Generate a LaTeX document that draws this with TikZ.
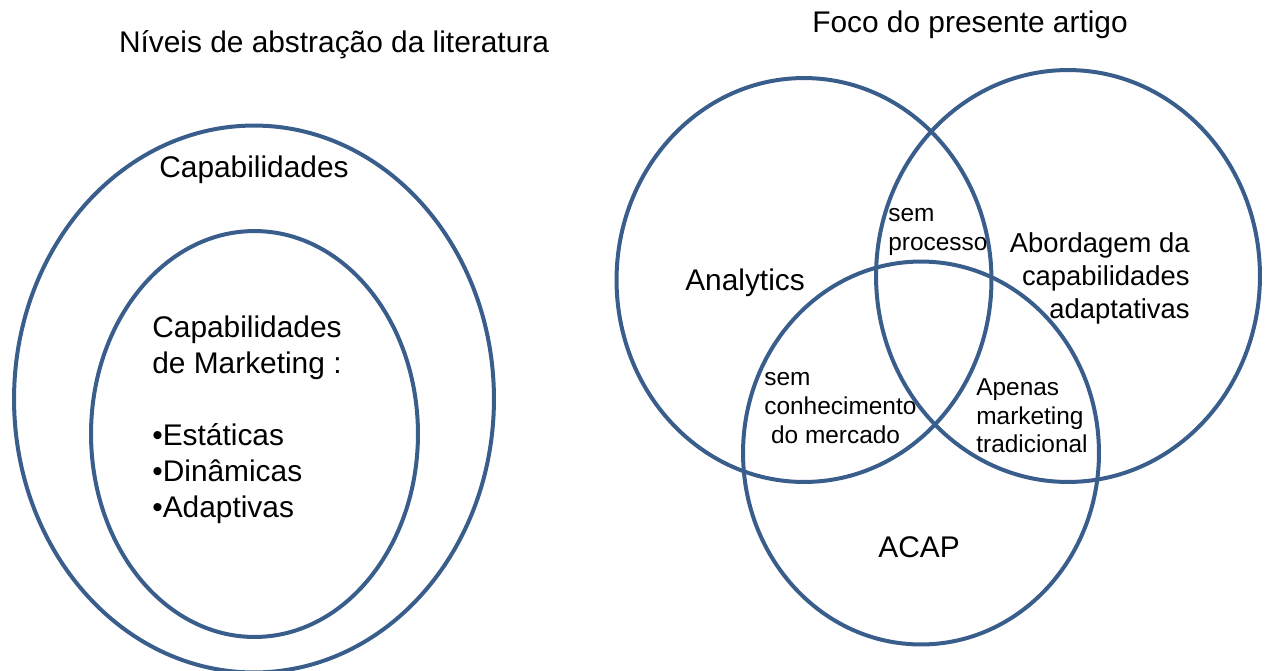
\documentclass[tikz,border=0pt]{standalone}
\usepackage{fontspec}
\setmainfont{Liberation Sans}
\usetikzlibrary{shapes.geometric, positioning}
\definecolor{ringColor}{RGB}{58,94,140}
\tikzset{ring/.style={draw=ringColor, line width=0.08cm, ellipse, inner sep=0pt}}
\tikzset{bigText/.style={font=\fontsize{17}{20.5}\selectfont, inner sep=0pt}}
\tikzset{midText/.style={font=\fontsize{15.6}{18.8}\selectfont, inner sep=0pt}}
\tikzset{smallText/.style={font=\fontsize{13.9}{16.3}\selectfont, inner sep=0pt, align=left}}

\begin{document}
\begin{tikzpicture}[x=0.02cm, y=-0.02cm]
	\useasboundingbox (0,0) rectangle (1268,670);

	% Levels of abstraction
	\node (outer) [ring, minimum width=9.6cm, minimum height=10.94cm] at (254,399) {};
	\node (inner) [ring, minimum width=6.54cm, minimum height=8.12cm] at (254.5,434) {};

	\node (levelsTitle) [bigText] at (334,45) {Níveis de abstração da literatura};
	\node (capLabel) [bigText] at (254,170) {Capabilidades};
	\node (mktLabel) [bigText, align=left, anchor=west] at (152,420) {Capabilidades\\de Marketing :\\[20.5pt]•Estáticas\\•Dinâmicas\\•Adaptivas};

	% Focus of the article
	\node (analytics) [ring, minimum width=7.5cm, minimum height=8.08cm] at (804,280) {};
	\node (adaptive) [ring, minimum width=7.68cm, minimum height=8.24cm] at (1068,276) {};
	\node (acap) [ring, minimum width=7.12cm, minimum height=7.66cm] at (921,453) {};

	\node (focusTitle) [bigText] at (970,25) {Foco do presente artigo};
	\node (analyticsLabel) [bigText] at (745,283) {Analytics};
	\node (acapLabel) [bigText] at (919,547) {ACAP};
	\node (adaptLabel) [midText, align=right, anchor=east] at (1190,278) {Abordagem da\\capabilidades\\adaptativas};

	\node (noProcess) [smallText, anchor=west] at (888,232) {sem\\processo};
	\node (noMarket) [smallText, anchor=west] at (764,408) {sem\\conhecimento\\\ do mercado};
	\node (onlyMkt) [smallText, anchor=west] at (976,416) {Apenas\\marketing\\tradicional};
\end{tikzpicture}
\end{document}
